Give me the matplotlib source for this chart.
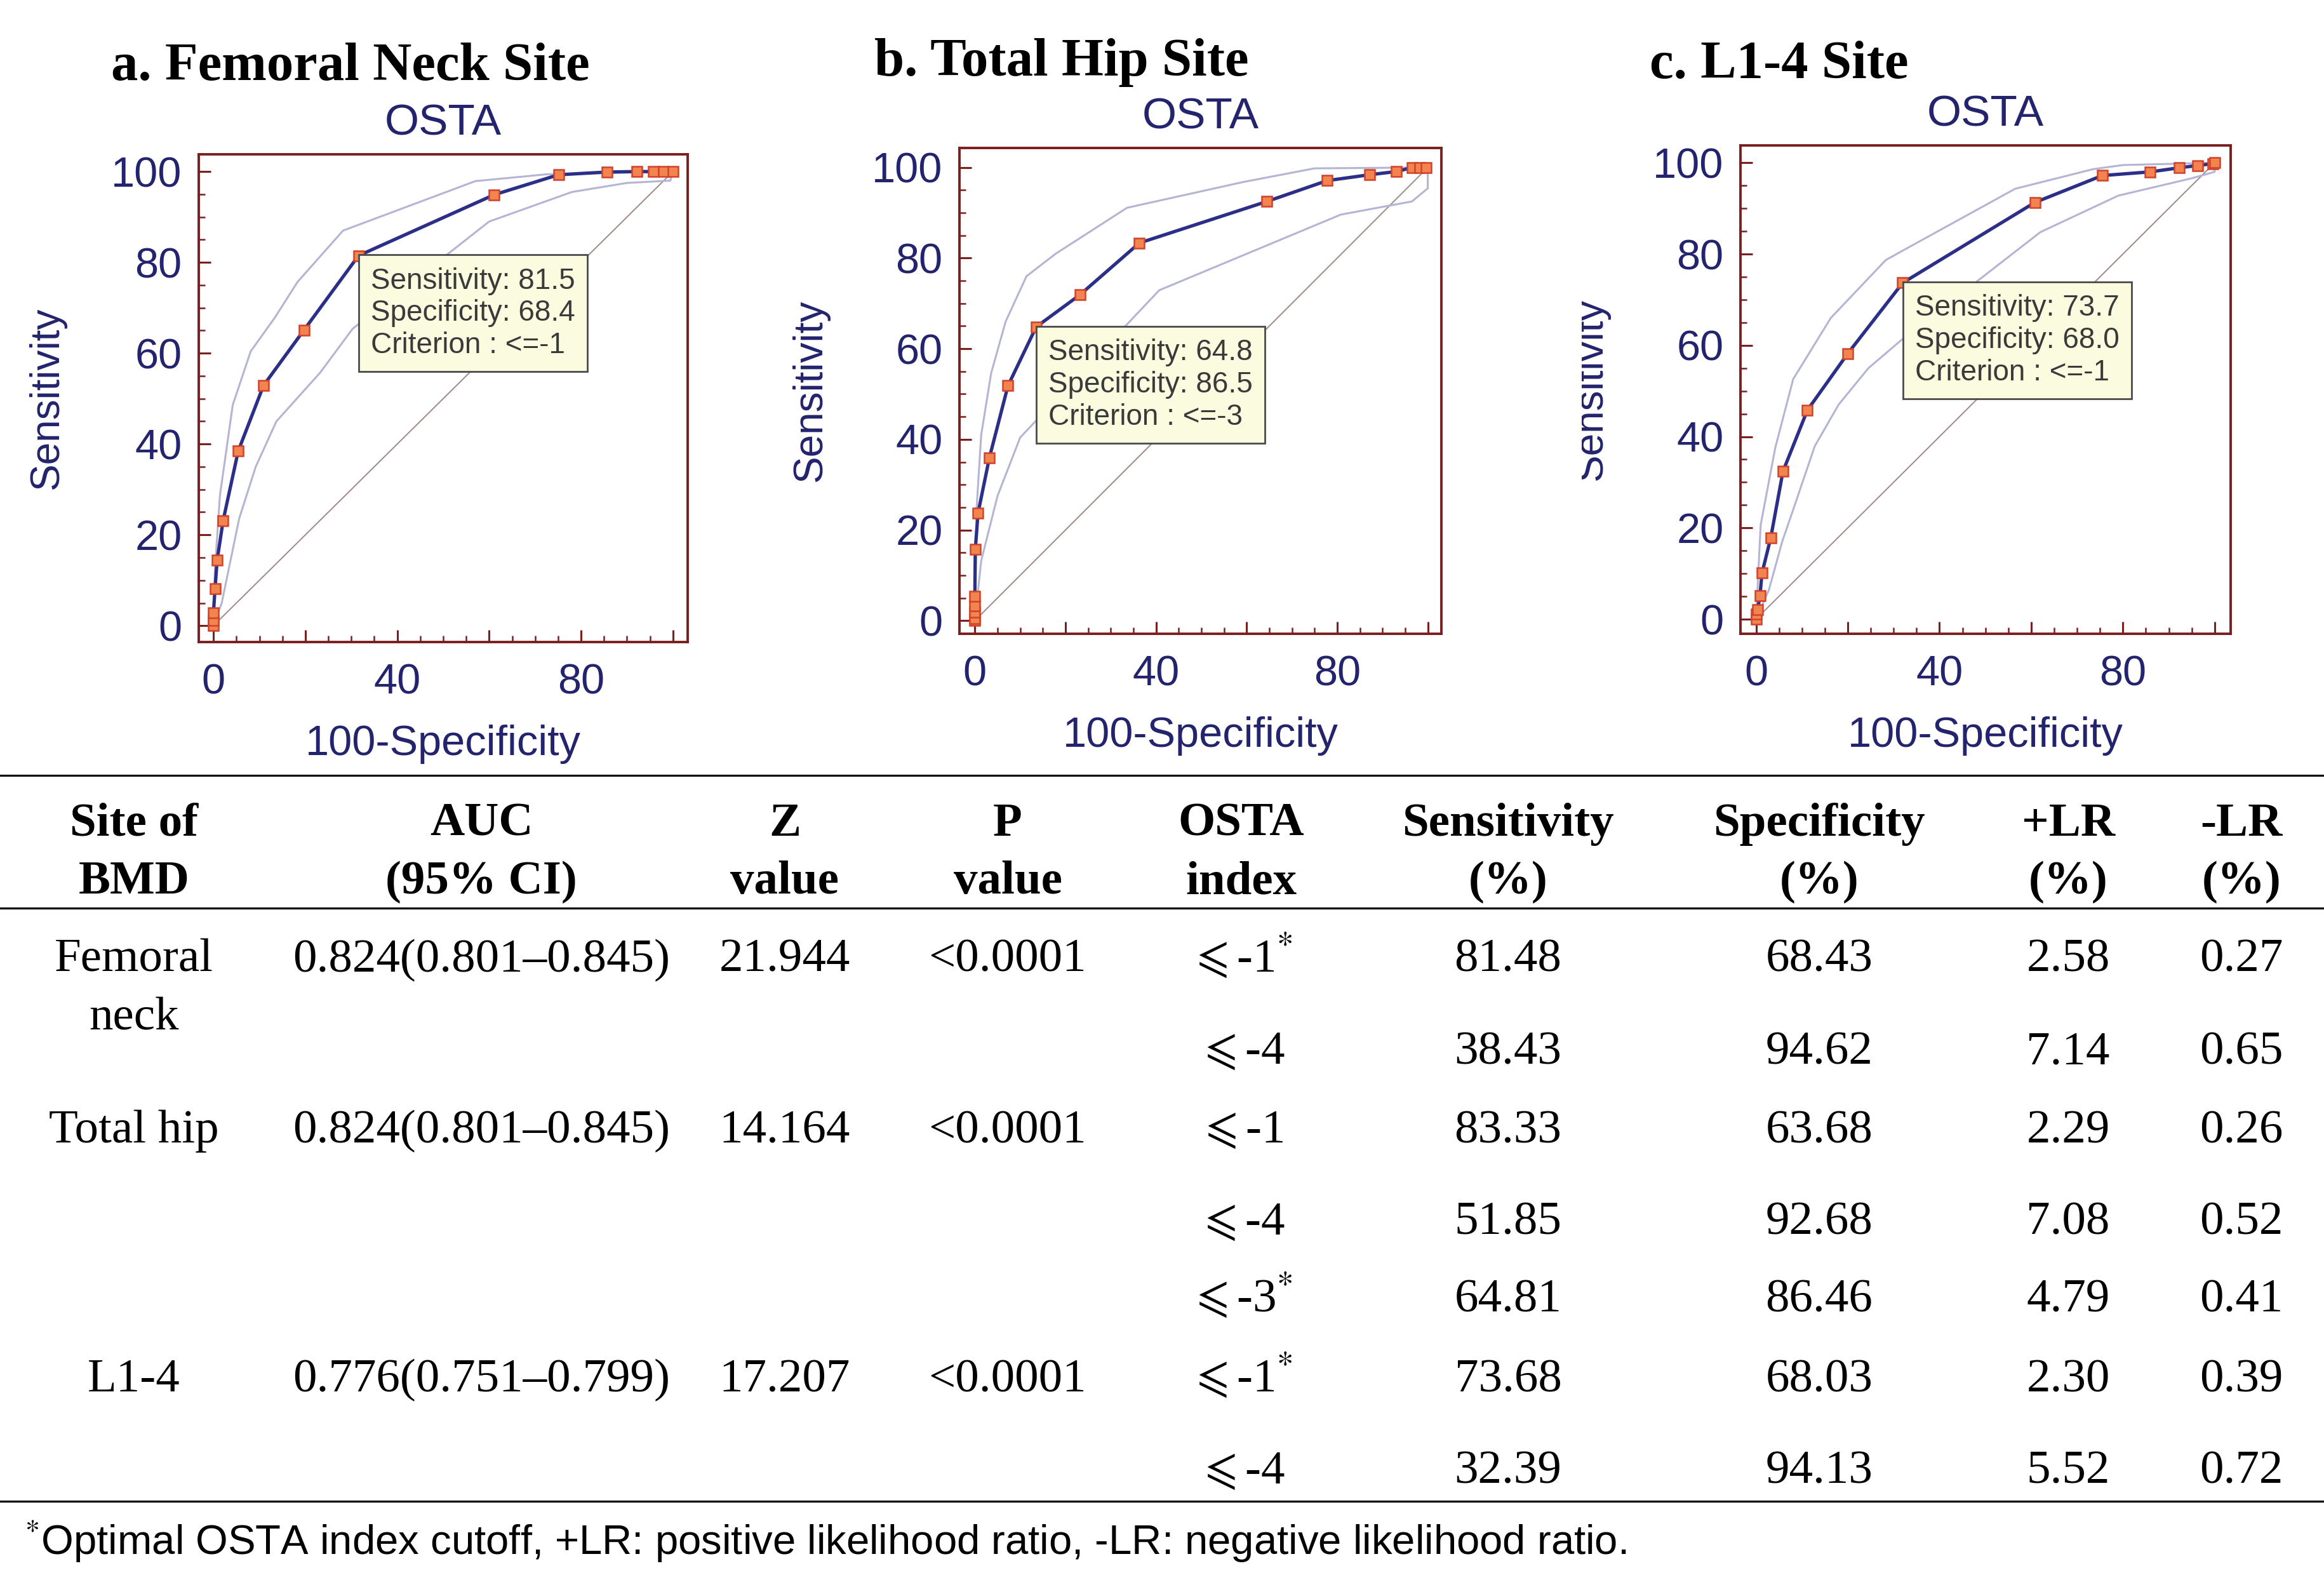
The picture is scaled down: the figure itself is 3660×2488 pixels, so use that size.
"""
ROC curves of the OSTA index at three BMD sites, with the summary table below.
"""

import matplotlib
matplotlib.use('Agg')
import matplotlib.pyplot as plt
from matplotlib.lines import Line2D
from matplotlib.patches import Rectangle
from matplotlib.ticker import FixedLocator, MultipleLocator

plt.rcParams['mathtext.fontset'] = 'stix'

# --- ROC data (100-specificity, sensitivity) ---
fn_fpr = [0, 0, 0, 0.35, 0.8, 2.1, 5.38, 10.9, 19.7, 31.57, 61.1, 75.1, 85.7, 92.1, 95.8, 98.0, 100]
fn_tpr = [0, 1.2, 2.9, 8.2, 14.4, 23.1, 38.43, 52.9, 65.1, 81.48, 94.9, 99.3, 99.9, 100, 100, 100, 100]
fn_up_x = [0, 0.3, 1.4, 4.2, 8.1, 13.4, 18.3, 28.2, 57, 72.5, 100]
fn_up_y = [0, 12, 28.6, 48.6, 60.4, 67.9, 75.7, 87.0, 97.9, 99.4, 100]
fn_lo_x = [0, 1.8, 5.6, 9.2, 13.7, 23.2, 30.3, 60, 78, 90, 99.4, 100]
fn_lo_y = [0, 5, 23.6, 35, 45, 55.7, 65.4, 89, 95.5, 97.5, 98, 100]

th_fpr = [0, 0, 0, 0, 0, 0.1, 0.7, 3.2, 7.32, 13.54, 23.2, 36.32, 64.5, 77.8, 87.2, 93.1, 96.6, 98.3, 99.7]
th_tpr = [0, 0.4, 1.8, 3.2, 5.4, 15.7, 23.7, 35.9, 51.85, 64.81, 71.9, 83.33, 92.5, 97.1, 98.4, 99.1, 100, 100, 100]
th_up_x = [0, 0.4, 1.4, 3.6, 6.8, 11.4, 17.9, 33.6, 59.3, 75, 100]
th_up_y = [0, 25, 41, 54.6, 66, 76, 81, 91.1, 96.8, 99.8, 100]
th_lo_x = [0, 1.4, 5, 10, 40.7, 80.8, 96.5, 100, 100]
th_lo_y = [0, 13.2, 27.5, 40.4, 72.9, 89.6, 92.5, 95.4, 100]

ls_fpr = [0, 0.1, 0.35, 0.85, 1.3, 3.2, 5.87, 11.2, 20.0, 31.97, 60.8, 75.5, 85.9, 92.3, 96.3, 99.6, 100]
ls_tpr = [0, 1.1, 2.1, 5.1, 10.1, 17.8, 32.39, 45.8, 58.2, 73.68, 91.3, 97.2, 98.0, 98.9, 99.4, 99.8, 100]
ls_up_x = [0, 1, 4.2, 8.1, 16.3, 28.3, 34.6, 56.5, 73.5, 80, 100]
ls_up_y = [0, 20.6, 37.6, 52.6, 66, 78.7, 82.2, 94.3, 98.6, 99.5, 100]
ls_lo_x = [0, 2.8, 5.7, 8.1, 12.8, 18, 24.5, 31.5, 62, 79, 95, 100, 100]
ls_lo_y = [0, 6.4, 17, 24, 37.9, 47, 55, 61, 84.8, 92.8, 96.6, 98, 100]

chance = [0, 100]

panel_titles = ['a. Femoral Neck Site', 'b. Total Hip Site', 'c. L1-4 Site']
opt_sens = [81.5, 64.8, 73.7]
opt_spec = [68.4, 86.5, 68.0]
opt_crit = ['<=-1', '<=-3', '<=-1']

major_ticks = [0, 20, 40, 60, 80, 100]
x_tick_labels = ['0', '', '40', '', '80', '']
y_tick_labels = ['0', '20', '40', '60', '80', '100']

# --- table data ---
header_top = ['Site of', 'AUC', 'Z', 'P', 'OSTA', 'Sensitivity', 'Specificity', '+LR', '-LR']
header_bot = ['BMD', '(95% CI)', 'value', 'value', 'index', '(%)', '(%)', '(%)', '(%)']
sites = ['Femoral\nneck', 'Total hip', 'L1-4']
auc = ['0.824(0.801\u20130.845)', '0.824(0.801\u20130.845)', '0.776(0.751\u20130.799)']
z_vals = ['21.944', '14.164', '17.207']
p_vals = ['<0.0001', '<0.0001', '<0.0001']
osta_idx = [r'${\leqslant}$-1$^{*}$', r'${\leqslant}$-4', r'${\leqslant}$-1', r'${\leqslant}$-4',
            r'${\leqslant}$-3$^{*}$', r'${\leqslant}$-1$^{*}$', r'${\leqslant}$-4']
sens = ['81.48', '38.43', '83.33', '51.85', '64.81', '73.68', '32.39']
spec = ['68.43', '94.62', '63.68', '92.68', '86.46', '68.03', '94.13']
plr = ['2.58', '7.14', '2.29', '7.08', '4.79', '2.30', '5.52']
nlr = ['0.27', '0.65', '0.26', '0.52', '0.41', '0.39', '0.72']
footnote = ('$^{*}$Optimal OSTA index cutoff, +LR: positive likelihood ratio, '
            '-LR: negative likelihood ratio.')

# --- layout (pixels on a 3660 x 2488 canvas) ---
W, H = 3660, 2488
ax_boxes = [(313, 243, 1083, 1011), (1511, 233, 2270, 998), (2741, 229, 3513, 998)]
ax_lims = [(-3.2, 103.2, -3.6, 103.8), (-3.4, 103.0, -2.9, 104.3), (-3.4, 103.5, -3.2, 103.8)]
ylabel_x = [-0.31, -0.31, -0.305]
title_pos = [(175, 126), (1377, 119), (2598, 123)]
col_x = [211, 758, 1236, 1587, 1955, 2375, 2865, 3257, 3530]
head_y = [1291, 1382]
site_y = [1505, 1774, 2166]
cut_y = [1505, 1650, 1774, 1919, 2040, 2166, 2311]
rule_y = [1221, 1430, 2364]
line_gap = 92
cap_shift = 25

NAVY = '#23236e'
LINE = '#2c2f88'
CI = '#b4b4d4'
DIAG = '#a08888'
FRAME = '#7a1e1e'
SANS = 'Liberation Sans'
SERIF = ['Liberation Serif', 'DejaVu Serif']


def fx(px):
    return px / W


def fy(py):
    return 1 - py / H


fig = plt.figure(figsize=(W / 100, H / 100), dpi=100)
fig.patch.set_facecolor('white')

curves = [
    (fn_fpr, fn_tpr, fn_up_x, fn_up_y, fn_lo_x, fn_lo_y),
    (th_fpr, th_tpr, th_up_x, th_up_y, th_lo_x, th_lo_y),
    (ls_fpr, ls_tpr, ls_up_x, ls_up_y, ls_lo_x, ls_lo_y),
]

for i, (fpr, tpr, ux, uy, lx, ly) in enumerate(curves):
    l, t, r, b = ax_boxes[i]
    ax = fig.add_axes([fx(l), fy(b), (r - l) / W, (b - t) / H])
    ax.plot(chance, chance, color=DIAG, lw=1.4, zorder=1)
    ax.plot(ux, uy, color=CI, lw=2.2, zorder=2)
    ax.plot(lx, ly, color=CI, lw=2.2, zorder=2)
    ax.plot(fpr, tpr, color=LINE, lw=3.8, marker='s', ms=12,
            mfc='#f2844f', mec='#d2422a', mew=1.8, zorder=3)

    txt = (f'Sensitivity: {opt_sens[i]:.1f}\n'
           f'Specificity: {opt_spec[i]:.1f}\n'
           f'Criterion : {opt_crit[i]}')
    ax.annotate(txt, xy=(100 - opt_spec[i], opt_sens[i]), xytext=(14, -13),
                textcoords='offset points', ha='left', va='top',
                fontsize=33, family=SANS, color='#3a3a3a', linespacing=1.2,
                bbox=dict(boxstyle='square,pad=0.42', fc='#fbfbe0', ec='#4a4a4a', lw=2),
                zorder=5)

    x0, x1, y0, y1 = ax_lims[i]
    ax.set_xlim(x0, x1)
    ax.set_ylim(y0, y1)
    ax.xaxis.set_major_locator(FixedLocator(major_ticks))
    ax.yaxis.set_major_locator(FixedLocator(major_ticks))
    ax.set_xticklabels(x_tick_labels)
    ax.set_yticklabels(y_tick_labels)
    ax.xaxis.set_minor_locator(MultipleLocator(5))
    ax.yaxis.set_minor_locator(MultipleLocator(5))
    ax.tick_params(which='both', direction='in', color=FRAME, top=False, right=False)
    ax.tick_params(which='major', length=14, width=2.2)
    ax.tick_params(which='minor', length=7, width=1.8)
    ax.tick_params(axis='x', pad=24, labelsize=48, labelcolor=NAVY)
    ax.tick_params(axis='y', pad=19, labelsize=48, labelcolor=NAVY)
    for lab in ax.get_xticklabels() + ax.get_yticklabels():
        lab.set_family(SANS)
    for spine in ax.spines.values():
        spine.set_edgecolor(FRAME)
        spine.set_linewidth(2.8)

    ax.set_title('OSTA', fontsize=50, color=NAVY, family=SANS, pad=22)
    ax.set_xlabel('100-Specificity', fontsize=48, color=NAVY, family=SANS)
    ax.set_ylabel('Sensitivity', fontsize=46, color=NAVY, family=SANS)
    ax.xaxis.set_label_coords(0.5, -0.21)
    ax.xaxis.label.set_verticalalignment('center')
    ax.yaxis.set_label_coords(ylabel_x[i], 0.5)
    ax.yaxis.label.set_verticalalignment('center')

    tx, ty = title_pos[i]
    fig.text(fx(tx), fy(ty), panel_titles[i], fontsize=61, fontweight='bold',
             family=SERIF, ha='left', va='baseline')

# the third panel's y label is clipped on its left edge in the source figure
fig.add_artist(Rectangle((fx(2420), fy(800)), (2491 - 2420) / W, 360 / H,
                         transform=fig.transFigure, fc='white', ec='none', zorder=20))

# --- table ---
for y in rule_y:
    fig.add_artist(Line2D([0, 1], [fy(y), fy(y)], transform=fig.transFigure,
                          color='#151515', lw=2.4))

for j, x in enumerate(col_x):
    fig.text(fx(x), fy(head_y[0] + cap_shift), header_top[j], fontsize=54,
             fontweight='bold', family=SERIF, ha='center', va='baseline')
    fig.text(fx(x), fy(head_y[1] + cap_shift), header_bot[j], fontsize=54,
             fontweight='bold', family=SERIF, ha='center', va='baseline')

site_cols = [sites, auc, z_vals, p_vals]
for k, y in enumerate(site_y):
    for j, col in enumerate(site_cols):
        for n, part in enumerate(col[k].split('\n')):
            fig.text(fx(col_x[j]), fy(y + cap_shift + n * line_gap), part,
                     fontsize=54, family=SERIF, ha='center', va='baseline')

cut_cols = [osta_idx, sens, spec, plr, nlr]
for k, y in enumerate(cut_y):
    for j, col in enumerate(cut_cols):
        fig.text(fx(col_x[4 + j]), fy(y + cap_shift), col[k],
                 fontsize=54, family=SERIF, ha='center', va='baseline')

fig.text(fx(38), fy(2448), footnote, fontsize=47, family=SANS,
         ha='left', va='baseline')

fig.savefig('out.png', dpi=100, facecolor='white')
